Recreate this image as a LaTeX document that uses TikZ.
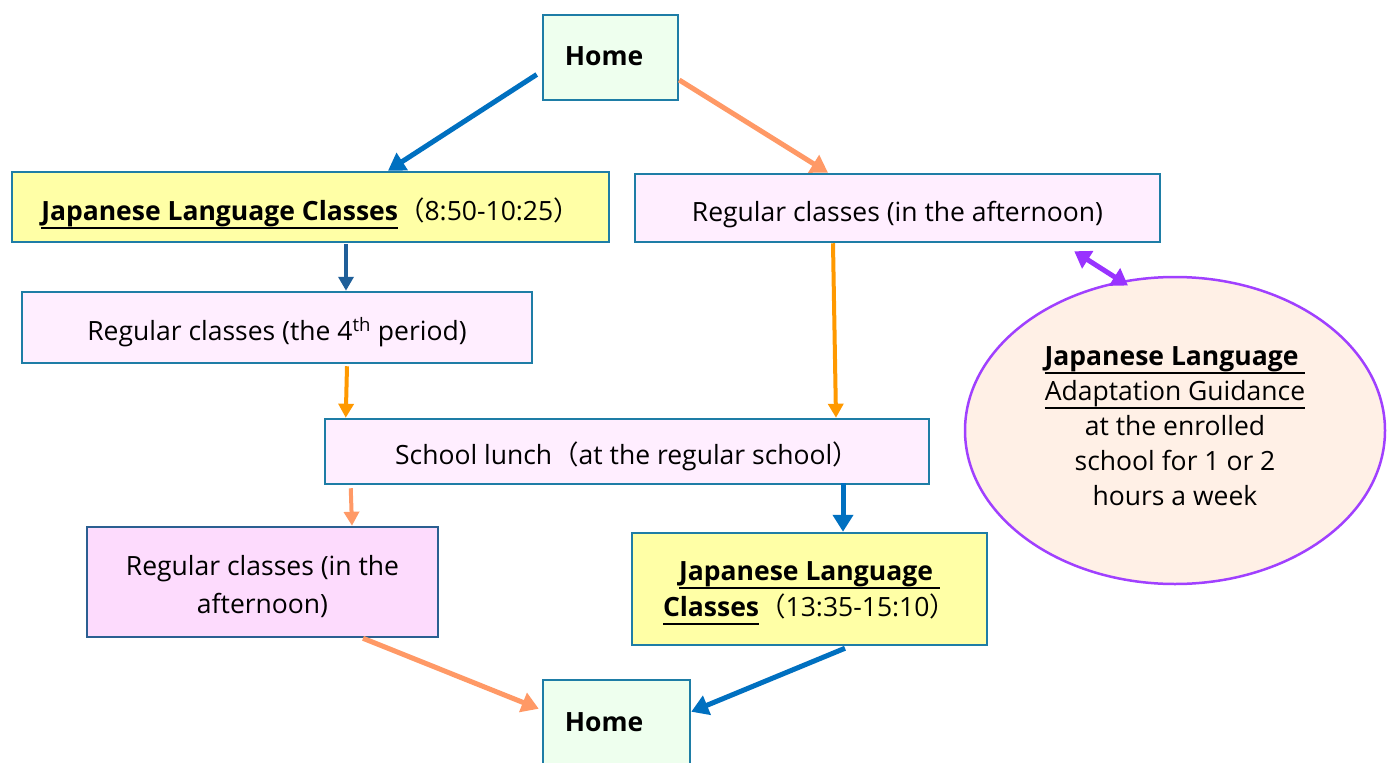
\documentclass[tikz,border=0pt]{standalone}
\usepackage{fontspec}
\setmainfont{Open Sans}
\newfontfamily\cjkfont{Noto Sans CJK JP}
\usetikzlibrary{arrows.meta,shapes.geometric}
\definecolor{boxline}{RGB}{30,125,166}
\definecolor{boxlinedark}{RGB}{43,95,145}
\definecolor{greenfill}{RGB}{238,255,238}
\definecolor{yellowfill}{RGB}{255,255,166}
\definecolor{pinkfill}{RGB}{255,238,255}
\definecolor{pinkfilldark}{RGB}{253,219,253}
\definecolor{peachfill}{RGB}{255,240,230}
\definecolor{ablue}{RGB}{0,112,192}
\definecolor{adarkblue}{RGB}{31,95,153}
\definecolor{asalmon}{RGB}{255,153,102}
\definecolor{aorange}{RGB}{255,153,0}
\definecolor{apurple}{RGB}{153,51,255}
\definecolor{epurple}{RGB}{160,64,255}
\newcommand{\fwl}{{\cjkfont （}}
\newcommand{\fwr}{{\cjkfont ）}}
\newsavebox{\myulbox}
\newcommand{\myul}[1]{\sbox{\myulbox}{#1}\leavevmode\rlap{\raisebox{-8.5pt}{\rule{\wd\myulbox}{1.8pt}}}\usebox{\myulbox}}
\begin{document}
\begin{tikzpicture}[x=1pt,y=-1pt,
  box/.style={draw=boxline,line width=2.5pt,rectangle,inner sep=0pt,align=center,
    font=\fontsize{26.5}{37}\selectfont},
  oneline/.style={text height=26pt,text depth=0pt},
  homebox/.style={box,fill=greenfill},
  yelbox/.style={box,fill=yellowfill},
  pinkbox/.style={box,fill=pinkfill},
  boxtext/.style={align=center,inner sep=0pt},
  hometext/.style={font=\fontsize{26.5}{30}\selectfont\bfseries,inner sep=0pt},
  thick arrow/.style={line width=5pt,-{Triangle[length=17pt,width=20pt]}},
  thin arrow/.style={line width=4pt,-{Triangle[length=14pt,width=15pt]}},
]
\useasboundingbox (0,0) rectangle (1390,763);
\fill[white] (0,0) rectangle (1390,763);

\node[homebox,minimum width=135pt,minimum height=85pt] (home1) at (610.5,57.5) {};
\node[hometext] (home1t) at (604,56) {Home};

\node[yelbox,oneline,minimum width=597pt,minimum height=70pt] (jlc1) at (310.5,207)
  {\myul{\textbf{Japanese Language Classes}}\fwl 8:50-10:25\fwr};

\node[pinkbox,oneline,minimum width=525pt,minimum height=68pt] (rcR) at (897.5,208)
  {Regular classes (in the afternoon)};

\node[pinkbox,oneline,minimum width=510pt,minimum height=71pt] (rc4) at (277,327.5)
  {Regular classes (the 4\textsuperscript{th} period)};

\node[pinkbox,oneline,minimum width=604pt,minimum height=65pt] (lunch) at (627,451.5)
  {School lunch\fwl at the regular school\fwr};

\node[box,draw=boxlinedark,fill=pinkfilldark,minimum width=351pt,minimum height=110pt] (rcL) at (262.5,582) {};
\node[boxtext,font=\fontsize{26.5}{38}\selectfont] (rcLt) at (262.5,587)
  {Regular classes (in the\\afternoon)};

\node[yelbox,minimum width=355pt,minimum height=112pt] (jlc2) at (809.5,589) {};
\node[boxtext,font=\fontsize{26.5}{36}\selectfont] (jlc2t) at (809.5,593)
  {\myul{\textbf{Japanese Language\ }}\\\myul{\textbf{Classes}}\fwl 13:35-15:10\fwr};

\node[homebox,minimum width=147pt,minimum height=100pt] (home2) at (616.5,730) {};
\node[hometext] (home2t) at (604,722) {Home};

\node[draw=epurple,line width=2.5pt,fill=peachfill,ellipse,minimum width=420pt,minimum height=307pt,inner sep=0pt] (guid) at (1175,430.5) {};
\node[boxtext,font=\fontsize{26.5}{35}\selectfont] (guidt) at (1175,426)
  {\myul{\textbf{Japanese Language\ }}\\\myul{Adaptation Guidance}\\at the enrolled\\school for 1 or 2\\hours a week};

% connectors
\draw[thick arrow,ablue] ([shift={(-5,17)}]home1.west) -- ([shift={(77.5,0)}]jlc1.north);
\draw[thick arrow,asalmon] ([shift={(0,22.5)}]home1.east) -- ([shift={(-69.5,0)}]rcR.north);
\draw[thin arrow,adarkblue] ([shift={(35.5,1)}]jlc1.south) -- ([shift={(69,0)}]rc4.north);
\draw[thin arrow,aorange] ([shift={(70,2)}]rc4.south) -- ([shift={(22,0)}]lunch.north west);
\draw[thin arrow,aorange] ([shift={(-64.5,0)}]rcR.south) -- ([shift={(209,0)}]lunch.north);
\draw[thin arrow,asalmon] ([shift={(27,3)}]lunch.south west) -- ([shift={(89.5,0)}]rcL.north);
\draw[thick arrow,ablue] ([shift={(216,-2)}]lunch.south) -- ([shift={(33.5,0)}]jlc2.north);
\draw[thick arrow,asalmon] ([shift={(100.5,0)}]rcL.south) -- ([shift={(-3,30)}]home2.north west);
\draw[thick arrow,ablue] ([shift={(35.5,2)}]jlc2.south) -- ([shift={(0,33)}]home2.north east);
\draw[line width=5pt,apurple,{Triangle[length=16pt,width=20pt]}-{Triangle[length=16pt,width=20pt]}]
  ([shift={(-87,8)}]rcR.south east) -- ([shift={(-47,-145)}]guid.center);
\end{tikzpicture}
\end{document}
